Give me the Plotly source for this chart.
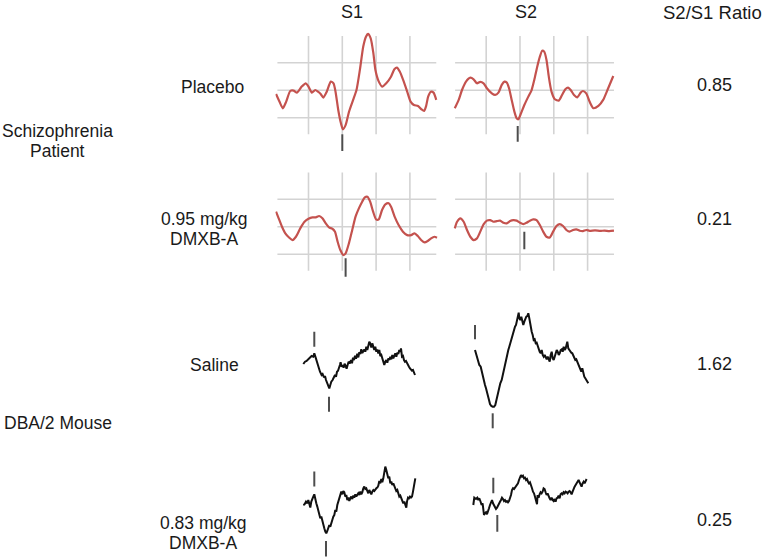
import plotly.graph_objects as go

W, H = 769, 559

# ---------------- data (time in ms, amplitude in uV) ----------------
# Schizophrenia patient, placebo, S1
PLA_S1_MS = [-98, -93, -88, -83, -77, -72, -67, -60, -54, -50, -45, -40, -36, -32, -28, -23, -17, -13, -10, -6,
             -2, 1, 5, 10, 16, 21, 26, 31, 35, 38, 42, 46, 49, 54, 59, 65, 72, 77, 81, 85,
             90, 96, 101, 106, 112, 117, 121, 124, 127, 131, 135, 139]
PLA_S1_UV = [-0.27, -0.82, -1.31, -0.82, -0.05, -0.02, -0.17, 0.27, 0.51, 0.27, -0.17, 0.02, -0.10, -0.27, -0.53, -0.10, 0.63, 0.51, -0.10, -1.43,
             -2.40, -2.84, -2.52, -1.55, -0.70, 0.02, 1.48, 3.18, 3.90, 4.10, 3.78, 2.69, 1.48, 0.63, 0.27, 0.51, 0.99, 1.53, 1.65, 1.36,
             0.75, -0.10, -0.82, -1.07, -1.14, -1.38, -1.50, -1.14, -0.46, -0.10, -0.17, -0.70]

# placebo, S2
PLA_S2_MS = [-96.5, -90.7, -85.8, -79.9, -73.5, -68.6, -63.7, -58.8, -53.9, -49.0, -41.7, -36.8, -31.9, -27.0, -23.0, -19.6, -16.2, -12.3, -8.3, -4.9,
             -2.5, 1.5, 6.4, 12.3, 17.2, 21.1, 25.5, 29.4, 32.8, 35.8, 39.2, 42.6, 46.6, 51.5, 57.3, 62.2, 67.1, 71.1, 75.0, 79.9,
             84.8, 89.7, 93.1, 98.0, 102.9, 108.5, 116.0, 123.0, 130.6, 138.0]
PLA_S2_UV = [-1.31, -0.70, 0.02, 0.63, 0.92, 0.80, 0.51, 0.61, 0.51, 0.15, -0.22, -0.34, -0.17, 0.39, 0.63, 0.56, 0.15, -0.70, -1.55, -2.04,
             -2.11, -1.67, -1.07, -0.46, 0.02, 0.75, 1.72, 2.45, 2.88, 2.81, 2.21, 0.99, -0.10, -0.65, -0.75, -0.34, 0.07, 0.19, 0.02, -0.34,
             -0.51, -0.17, -0.05, -0.22, -0.82, -1.30, -1.14, -0.70, 0.17, 1.04]

# 0.95 mg/kg DMXB-A, S1
DMX_S1_MS = [-98, -94.1, -89.2, -84.3, -78.4, -73.5, -68.6, -62.2, -55.9, -50, -44.1, -39.2, -34.3, -29.4, -24.5, -19.6, -14.7, -10.8, -6.9, -2.9,
             1.5, 4.9, 9.8, 14.7, 19.6, 24.5, 29.4, 33.3, 37.2, 41.2, 45.6, 50, 53.9, 58.8, 63.7, 68.6, 72.5, 77.4, 83.3, 89.7,
             96, 101.9, 106.8, 111.7, 116.6, 121.5, 126.4, 131.3, 136.2, 140.1]
DMX_S1_UV = [1.09, 0.61, 0.0, -0.48, -0.80, -0.97, -0.73, -0.12, 0.36, 0.58, 0.68, 0.68, 0.78, 0.61, 0.24, -0.05, -0.15, -0.36, -1.09, -1.70,
             -2.06, -1.94, -1.21, -0.24, 0.73, 1.33, 1.82, 2.13, 2.18, 1.82, 1.09, 0.53, 0.53, 1.21, 1.62, 1.70, 1.41, 0.73, 0.12, -0.36,
             -0.61, -0.61, -0.48, -0.68, -0.97, -1.14, -1.04, -0.85, -0.73, -0.80]

# 0.95 mg/kg DMXB-A, S2
DMX_S2_MS = [-96.5, -93.1, -88.2, -83.3, -78.4, -73.5, -68.6, -63.7, -58.8, -53.9, -49, -44.1, -39.2, -34.3, -29.4, -24.5, -19.6, -14.7, -9.8, -4.9,
             0, 4.9, 9.8, 14.7, 19.6, 24.5, 29.4, 34.3, 39.2, 44.1, 49, 53.9, 58.8, 63.7, 68.6, 73.5, 78.4, 83.3, 88.2, 93.1,
             98, 103, 111, 118.7, 125, 132, 139]
DMX_S2_UV = [-0.12, 0.36, 0.61, 0.36, -0.24, -0.73, -0.97, -0.85, -0.36, 0.17, 0.44, 0.48, 0.36, 0.41, 0.44, 0.29, 0.24, 0.41, 0.48, 0.44,
             0.29, 0.19, 0.29, 0.44, 0.53, 0.48, 0.12, -0.36, -0.73, -0.78, -0.36, 0.05, 0.19, 0.05, -0.24, -0.36, -0.24, -0.19, -0.29, -0.32,
             -0.24, -0.30, -0.26, -0.31, -0.28, -0.32, -0.29]

# DBA/2 mouse, saline, S1
SAL_S1_MS = [-11.0, -9.3, -7.7, -6.0, -4.3, -2.7, -1.0, 0.0, 1.3, 3.0, 4.7, 5.7, 7.3, 8.3, 9.7, 10.7, 11.7, 13.0, 14.0, 15.0,
             16.0, 17.0, 18.3, 19.3, 20.7, 21.7, 22.7, 23.7, 24.7, 25.7, 26.3, 27.3, 28.3, 29.3, 30.3, 31.3, 32.3, 33.3, 34.3, 35.7,
             36.7, 37.7, 38.7, 39.7, 40.7, 41.7, 43.0, 44.0, 45.0, 46.0, 47.0, 48.0, 49.0, 50.0, 51.0, 52.0, 53.0, 54.0, 55.0, 56.0,
             57.0, 58.0, 59.0, 60.0, 61.0, 62.0, 63.0, 64.0, 65.0, 66.0, 67.0, 68.0, 69.0, 70.0, 71.0, 72.0, 73.0, 74.0, 75.0, 76.0,
             77.0, 78.0, 79.0, 80.0, 81.0, 82.0, 83.0, 84.0, 85.0, 86.0, 86.7, 87.7, 88.7, 89.7, 90.7, 91.7, 92.7, 93.7, 94.7, 95.7,
             96.7, 97.7, 98.7, 99.7, 100.7]
SAL_S1_UV = [-7.3, -5.0, -4.3, -2.7, -0.7, 0.7, 0.0, 3.3, -0.7, -6.7, -11.7, -15.0, -18.3, -17.3, -20.7, -19.3, -23.3, -26.0, -29.3, -31.7,
             -28.3, -25.0, -23.3, -20.7, -18.3, -20.0, -15.0, -14.0, -11.7, -8.0, -5.5, -10.0, -8.3, -11.0, -7.0, -9.5, -12.0, -8.3, -5.0, -6.7,
             -3.3, -6.5, -1.0, -3.3, 1.0, -2.0, 3.0, -0.7, 4.5, 2.7, 7.5, 3.8, 6.7, 7.3, 5.0, 10.0, 6.7, 11.7, 15.0, 13.3,
             9.3, 13.3, 8.3, 6.7, 10.0, 5.0, 7.3, 3.3, 6.7, 0.7, 1.7, -1.7, -5.0, -8.3, -5.0, -3.3, -6.0, -1.7, -3.3, 0.0,
             -2.7, 1.7, -1.7, 1.7, 3.3, 0.0, 4.0, 2.7, 6.7, 5.0, 8.3, 0.0, 0.7, -3.3, -5.0, -4.3, -6.7, -8.3, -10.0, -11.7,
             -12.7, -14.0, -13.3, -16.0, -18.3]

# saline, S2
SAL_S2_MS = [0.0, 1.0, 2.3, 3.3, 4.3, 5.7, 6.7, 7.7, 9.0, 10.0, 11.0, 11.7, 13.0, 14.0, 15.0, 16.3, 17.7, 19.0, 20.3, 21.3,
             22.3, 23.3, 24.3, 25.3, 26.7, 27.7, 29.0, 30.0, 31.0, 32.3, 33.3, 34.3, 35.7, 36.7, 37.7, 39.0, 40.0, 41.0, 42.0, 43.0,
             43.7, 44.3, 45.3, 46.3, 47.3, 48.3, 49.3, 50.3, 51.3, 52.3, 53.3, 54.3, 55.0, 55.7, 56.7, 57.7, 58.7, 59.7, 60.7, 61.7,
             62.7, 63.7, 64.7, 65.7, 66.7, 67.7, 68.7, 69.7, 70.7, 71.7, 72.7, 73.7, 74.7, 75.7, 76.7, 77.7, 78.7, 79.7, 80.7, 81.7,
             82.7, 83.7, 84.7, 85.7, 86.7, 87.7, 88.7, 89.7, 90.7, 91.7, 92.3, 93.3, 94.3, 95.3, 96.3, 97.3, 98.3, 99.3, 100.3, 101.3,
             102.3, 103.3, 104.3, 105.3, 106.3, 107.3, 108.3, 109.3, 110.3, 111.3, 112.3, 113.3]
SAL_S2_UV = [0.0, -3.3, -8.3, -11.7, -15.0, -16.7, -21.7, -25.0, -30.0, -35.0, -38.3, -41.7, -45.0, -50.0, -54.0, -56.0, -56.7, -56.7, -55.0, -50.0,
             -45.0, -41.7, -38.3, -33.3, -30.0, -25.0, -18.3, -13.3, -8.3, -5.0, 0.0, 3.3, 8.3, 11.7, 16.7, 21.7, 23.3, 25.0, 30.0, 35.0,
             37.3, 31.7, 30.0, 33.3, 28.3, 25.0, 28.3, 31.7, 33.3, 34.0, 36.7, 31.7, 26.7, 21.7, 18.3, 15.0, 10.0, 10.7, 6.7, 7.3,
             3.3, 0.7, -1.7, -3.3, 0.0, -5.0, -6.7, -5.0, -8.3, -9.3, -6.7, -10.0, -11.7, -5.0, -1.7, -8.3, -10.0, -6.7, -3.3, 0.0,
             -1.7, -5.0, -3.3, 0.0, 0.7, -1.7, 3.3, 0.0, 1.7, 5.0, 8.3, 1.7, 0.0, -0.7, -2.7, -3.3, -6.0, -8.3, -10.0, -9.3,
             -11.7, -15.0, -18.3, -20.0, -21.7, -18.3, -23.3, -26.7, -28.3, -30.0, -31.7, -33.3]

# 0.83 mg/kg DMXB-A, S1
MDX_S1_MS = [-11.0, -9.7, -8.3, -7.0, -6.0, -5.0, -4.0, -3.0, -2.0, -1.0, 0.0, 1.0, 2.0, 3.0, 4.0, 5.0, 6.0, 7.0, 8.0, 9.0,
             10.0, 11.0, 12.0, 13.0, 14.0, 15.0, 16.0, 17.0, 18.0, 19.0, 20.0, 21.0, 22.0, 23.0, 24.0, 25.0, 26.0, 27.0, 28.0, 29.0,
             30.0, 31.0, 32.0, 33.0, 34.0, 35.0, 36.0, 37.0, 38.0, 39.0, 40.0, 41.0, 42.0, 43.0, 44.0, 45.0, 46.0, 47.0, 48.0, 49.0,
             50.0, 51.0, 52.0, 53.0, 54.0, 55.0, 56.0, 57.0, 58.0, 59.0, 60.0, 61.0, 62.0, 63.0, 64.0, 65.0, 66.0, 67.0, 68.0, 69.0,
             70.0, 71.0, 72.0, 73.0, 74.0, 75.0, 76.0, 77.0, 78.0, 79.0, 80.0, 81.0, 82.0, 83.0, 84.0, 85.0, 86.0, 87.0, 88.0, 89.0,
             90.0, 91.0, 92.0, 92.7, 93.7, 94.7, 95.7, 96.7, 97.7, 98.7, 99.7, 100.7, 101.0]
MDX_S1_UV = [-10.7, -10.0, -7.3, -9.0, -5.7, -10.7, -13.3, -7.3, -4.0, -2.3, 0.0, -5.7, -9.0, -12.3, -17.3, -20.7, -24.0, -22.3, -27.3, -30.7,
             -34.0, -37.3, -39.0, -36.7, -34.0, -30.7, -32.3, -27.3, -25.7, -22.3, -20.7, -15.7, -17.3, -10.7, -7.3, -5.7, -2.3, 2.7, 0.0, 3.3,
             2.0, -2.3, -0.7, -5.7, -3.3, -6.7, -4.0, -2.3, -4.7, -1.3, -3.3, 0.0, -2.3, -0.7, 1.0, -0.7, 2.7, 0.0, 2.0, 6.0,
             7.7, 5.3, 6.0, 3.3, 1.0, 4.3, 2.0, 0.0, 2.7, 4.3, 3.3, 5.3, 6.0, 6.7, 8.7, 13.3, 11.0, 15.3, 12.0, 16.0,
             22.7, 27.7, 24.3, 21.0, 16.0, 17.7, 11.0, 12.7, 9.3, 11.0, 7.7, 6.0, 3.3, 4.3, 0.0, -2.3, -1.3, -4.0, -6.7, -9.0,
             -7.3, -10.7, -13.3, -7.3, -3.3, -4.0, -2.3, -3.3, -2.3, 2.7, 7.7, 11.0, 16.0]

# 0.83 mg/kg DMXB-A, S2
MDX_S2_MS = [-20.0, -19.0, -17.3, -16.0, -15.0, -14.0, -12.7, -11.7, -10.7, -10.0, -9.3, -8.3, -7.3, -6.3, -5.3, -4.3, -3.3, -2.3, -1.3, -0.3,
             0.7, 1.7, 2.7, 3.7, 4.7, 5.7, 6.7, 7.7, 8.7, 9.7, 10.7, 11.7, 12.7, 13.7, 14.7, 15.7, 16.7, 17.7, 18.7, 19.7,
             20.7, 21.7, 22.7, 23.7, 24.7, 25.7, 26.7, 27.7, 28.7, 29.7, 30.7, 31.7, 32.7, 33.7, 34.7, 35.7, 36.7, 37.7, 38.7, 39.7,
             40.7, 41.7, 42.7, 43.7, 44.3, 45.3, 46.3, 47.3, 48.3, 49.3, 50.3, 51.3, 52.3, 53.3, 54.3, 55.3, 56.3, 57.3, 58.3, 59.3,
             60.3, 61.3, 62.3, 63.3, 64.3, 65.3, 66.3, 67.3, 68.3, 69.3, 70.3, 71.3, 72.3, 73.3, 74.3, 75.3, 76.3, 77.3, 78.3, 79.3,
             80.3, 81.3, 82.3, 83.3, 84.3, 85.3, 86.3, 87.3, 88.3, 89.3, 90.3, 91.3, 92.3, 93.3]
MDX_S2_UV = [-5.0, 2.3, 1.0, 2.3, 0.0, 1.7, -1.7, -5.0, -3.3, -11.7, -15.0, -13.3, -12.3, -14.3, -10.0, -8.3, -5.0, -1.7, 0.0, -3.3,
             -5.0, -6.7, -9.0, -7.7, -5.0, -3.3, -1.7, 0.0, 2.3, 1.0, -1.0, 0.0, -1.7, -1.0, -2.3, -1.0, 1.7, 5.0, 10.0, 11.7,
             11.0, 12.3, 13.3, 15.0, 16.7, 20.0, 22.3, 25.0, 23.3, 24.3, 21.7, 22.3, 20.0, 21.0, 18.3, 16.7, 17.7, 13.3, 11.7, 8.3,
             6.7, 3.3, 0.0, -4.3, 5.0, 2.3, 5.7, 7.7, 6.7, 8.3, 11.7, 11.0, 7.7, 5.0, 6.7, 3.3, 1.7, 0.0, 2.3, 0.0,
             -1.0, 1.0, -1.7, 1.7, 2.3, 4.3, 1.7, 5.7, 6.7, 5.7, 7.7, 6.7, 8.3, 7.7, 6.7, 8.3, 9.0, 7.7, 5.7, 8.3,
             11.7, 13.3, 15.0, 16.7, 18.3, 20.0, 17.7, 15.7, 13.3, 16.7, 18.3, 16.7, 19.0, 21.0]

# latency markers: (time ms, bar from uV, bar to uV)
PLA_S1_MARK = [(0.0, -3.19, -4.41)]
PLA_S2_MARK = [(-3.4, -2.60, -3.75)]
DMX_S1_MARK = [(4.9, -2.30, -3.64)]
DMX_S2_MARK = [(6.4, -0.36, -1.64)]
SAL_S1_MARK = [(0.0, 25.0, 10.0), (14.7, -40.0, -55.0)]
SAL_S2_MARK = [(0.0, 25.0, 10.7), (17.7, -63.3, -78.3)]
MDX_S1_MARK = [(0.0, 22.7, 7.7), (11.7, -46.7, -62.3)]
MDX_S2_MARK = [(0.0, 22.3, 6.7), (4.0, -15.0, -31.7)]

# grid ticks of the human recordings
GRID_X_MS = [-50, 0, 50, 100]
GRID_Y_UV = [-2, 0, 2]

COLUMN_TITLES = ["S1", "S2", "S2/S1 Ratio"]
ROW_LABELS = ["Placebo", "0.95 mg/kg\nDMXB-A", "Saline", "0.83 mg/kg\nDMXB-A"]
GROUP_LABELS = ["Schizophrenia\nPatient", "DBA/2 Mouse"]
RATIOS = ["0.85", "0.21", "1.62", "0.25"]

# ---------------- styling / layout constants ----------------
RED = "#c4524e"
BLACK = "#111111"
GRID = "#d3d3d3"
MARK = "#4d4d4d"
FONT = "Liberation Sans, Arial, sans-serif"

RED_PX_MS = 0.676
RED_PX_UV = 13.75
RED_XR = [-99, 142]
RED_YR = [-4.6, 4.4]
GRID_XSPAN = [-96, 139]
GRID_YSPAN = [-3.2, 3.95]

MOUSE_PX_MS = 1.0
MOUSE_PX_UV = 1.0

fig = go.Figure()
layout_axes = {}
shapes = []


def add_panel(idx, xs, ys, color, width, smooth, zero, pxms, pxuv, xr, yr, marks, grid):
    xa = "x" if idx == 1 else f"x{idx}"
    ya = "y" if idx == 1 else f"y{idx}"
    zx, zy = zero
    x0 = (zx + xr[0] * pxms) / W
    x1 = (zx + xr[1] * pxms) / W
    ytop = zy - yr[1] * pxuv
    ybot = zy - yr[0] * pxuv
    d0 = max(0.0, 1 - ybot / H)
    d1 = min(1.0, 1 - ytop / H)
    layout_axes["xaxis" if idx == 1 else f"xaxis{idx}"] = dict(
        domain=[max(0.0, x0), min(1.0, x1)], range=xr, visible=False, anchor=ya, fixedrange=True)
    layout_axes["yaxis" if idx == 1 else f"yaxis{idx}"] = dict(
        domain=[d0, d1], range=yr, visible=False, anchor=xa, fixedrange=True)
    if grid:
        for g in GRID_X_MS:
            shapes.append(dict(type="line", xref=xa, yref=ya, x0=g, x1=g,
                               y0=GRID_YSPAN[0], y1=GRID_YSPAN[1],
                               line=dict(color=GRID, width=1.6), layer="below"))
        for g in GRID_Y_UV:
            shapes.append(dict(type="line", xref=xa, yref=ya, x0=GRID_XSPAN[0], x1=GRID_XSPAN[1],
                               y0=g, y1=g, line=dict(color=GRID, width=1.6), layer="below"))
    fig.add_trace(go.Scatter(
        x=xs, y=ys, mode="lines", xaxis=xa, yaxis=ya, hoverinfo="skip",
        line=dict(color=color, width=width, shape="spline" if smooth else "linear",
                  smoothing=0.6 if smooth else None)))
    for (t, a, b) in marks:
        fig.add_trace(go.Scatter(x=[t, t], y=[a, b], mode="lines", xaxis=xa, yaxis=ya,
                                 hoverinfo="skip", line=dict(color=MARK, width=2)))


add_panel(1, PLA_S1_MS, PLA_S1_UV, RED, 2.2, True, (342.3, 90.3), RED_PX_MS, RED_PX_UV, RED_XR, RED_YR, PLA_S1_MARK, True)
add_panel(2, PLA_S2_MS, PLA_S2_UV, RED, 2.2, True, (520.0, 90.3), RED_PX_MS, RED_PX_UV, RED_XR, RED_YR, PLA_S2_MARK, True)
add_panel(3, DMX_S1_MS, DMX_S1_UV, RED, 2.2, True, (342.3, 226.7), RED_PX_MS, RED_PX_UV, RED_XR, RED_YR, DMX_S1_MARK, True)
add_panel(4, DMX_S2_MS, DMX_S2_UV, RED, 2.2, True, (520.0, 226.7), RED_PX_MS, RED_PX_UV, RED_XR, RED_YR, DMX_S2_MARK, True)
add_panel(5, SAL_S1_MS, SAL_S1_UV, BLACK, 2.0, False, (314.3, 356.7), MOUSE_PX_MS, MOUSE_PX_UV, [-25, 120], [-60, 30], SAL_S1_MARK, False)
add_panel(6, SAL_S2_MS, SAL_S2_UV, BLACK, 2.0, False, (475.0, 350.0), MOUSE_PX_MS, MOUSE_PX_UV, [-25, 120], [-85, 45], SAL_S2_MARK, False)
add_panel(7, MDX_S1_MS, MDX_S1_UV, BLACK, 2.0, False, (314.3, 494.3), MOUSE_PX_MS, MOUSE_PX_UV, [-25, 120], [-64, 32], MDX_S1_MARK, False)
add_panel(8, MDX_S2_MS, MDX_S2_UV, BLACK, 2.0, False, (493.3, 500.0), MOUSE_PX_MS, MOUSE_PX_UV, [-25, 120], [-38, 30], MDX_S2_MARK, False)

# ---------------- text ----------------
annotations = []


def text(s, cx, cy, size=17.5, anchor="center"):
    annotations.append(dict(text=s, x=cx / W, y=1 - cy / H, xref="paper", yref="paper",
                            xanchor=anchor, yanchor="middle", showarrow=False,
                            font=dict(family=FONT, size=size, color="#1a1a1a")))


def multiline(s, cx, cy_first, gap=20, size=17.5):
    for i, line in enumerate(s.split("\n")):
        text(line, cx, cy_first + i * gap, size)


text(COLUMN_TITLES[0], 352, 12, 18)
text(COLUMN_TITLES[1], 526, 12, 18)
text(COLUMN_TITLES[2], 661, 12, 18.5, anchor="left")

multiline(ROW_LABELS[0], 212.5, 87)
multiline(ROW_LABELS[1], 204, 219)
multiline(ROW_LABELS[2], 214, 365)
multiline(ROW_LABELS[3], 203, 523)

multiline(GROUP_LABELS[0], 57, 131)
multiline(GROUP_LABELS[1], 58, 423)

for r, cy in zip(RATIOS, [85, 219, 364, 520]):
    text(r, 714, cy, 18)

fig.update_layout(
    width=W, height=H, margin=dict(l=0, r=0, t=0, b=0),
    paper_bgcolor="white", plot_bgcolor="white", showlegend=False,
    shapes=shapes, annotations=annotations, **layout_axes)

fig.write_html("out.html", config={"displayModeBar": False, "staticPlot": True},
               post_script="document.body.style.margin='0';document.body.style.overflow='hidden';")
